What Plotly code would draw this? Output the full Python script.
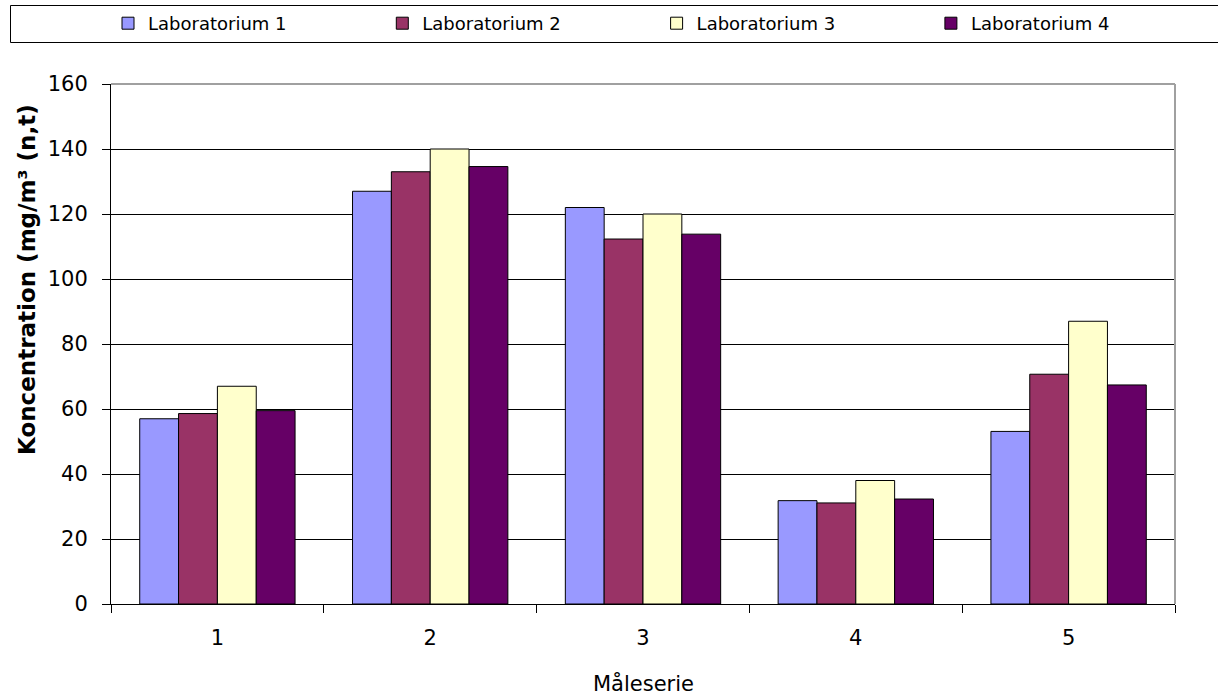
import plotly.graph_objects as go

# Measurement series (x categories) and results per laboratory
maleserie = ["1", "2", "3", "4", "5"]
lab1 = [57.0, 127.0, 122.0, 31.8, 53.1]
lab2 = [58.6, 133.0, 112.3, 31.1, 70.7]
lab3 = [67.0, 140.0, 120.0, 38.0, 87.0]
lab4 = [59.5, 134.6, 113.8, 32.3, 67.4]

series_names = ["Laboratorium 1", "Laboratorium 2", "Laboratorium 3", "Laboratorium 4"]
series_values = [lab1, lab2, lab3, lab4]
series_colors = ["#9999FF", "#993366", "#FFFFCC", "#660066"]

y_ticks = [0, 20, 40, 60, 80, 100, 120, 140, 160]

y_title = "Koncentration (mg/m³ (n,t)"
x_title = "Måleserie"

FONT = "DejaVu Sans"

W, H = 1218, 697
ML, MR, MT, MB = 111, 43, 84, 93
pw, ph = W - ML - MR, H - MT - MB


def px_x(p):
    return (p - ML) / pw


def px_y(p):
    return (H - MB - p) / ph


fig = go.Figure()
legend_ids = ["legend", "legend2", "legend3", "legend4"]
for name, vals, col, lg in zip(series_names, series_values, series_colors, legend_ids):
    fig.add_trace(go.Bar(
        x=maleserie, y=vals, name=name, legend=lg,
        marker=dict(color=col, line=dict(color="#000000", width=1)),
    ))

# one legend box per laboratory, spread evenly along the top strip
legend_layout = {}
for i, lg in enumerate(legend_ids):
    legend_layout[lg] = dict(
        orientation="h",
        xref="container", yref="container",
        x=(108 + 274.3 * i) / W, y=1 - 5 / H, xanchor="left", yanchor="top",
        font=dict(family=FONT, size=18),
        itemwidth=30,
        bgcolor="rgba(0,0,0,0)",
    )

fig.update_layout(
    width=W, height=H,
    margin=dict(l=ML, r=MR, t=MT, b=MB, pad=0),
    paper_bgcolor="white", plot_bgcolor="white",
    font=dict(family=FONT, size=20, color="#000000"),
    barmode="group", bargap=0.27, bargroupgap=0,
    showlegend=True,
    **legend_layout,
    xaxis=dict(
        type="category",
        tickson="boundaries",
        ticks="outside", ticklen=8, tickcolor="#000000", tickwidth=1,
        showline=True, linecolor="#000000", linewidth=1,
        showgrid=False, automargin=False,
        ticklabelstandoff=15,
        tickfont=dict(size=21),
    ),
    yaxis=dict(
        range=[0, 160],
        tickvals=y_ticks,
        ticks="outside", ticklen=8, tickcolor="#000000", tickwidth=1,
        showline=True, linecolor="#000000", linewidth=1,
        showgrid=True, gridcolor="#000000", gridwidth=1,
        zeroline=False, automargin=False,
        ticklabelstandoff=10,
        tickfont=dict(size=21),
    ),
    annotations=[
        dict(text=x_title, xref="paper", yref="paper",
             x=0.5, y=px_y(683), xanchor="center", yanchor="middle",
             showarrow=False, font=dict(size=21)),
        dict(text="<b>" + y_title + "</b>", xref="paper", yref="paper",
             x=px_x(27), y=px_y(280), xanchor="center", yanchor="middle",
             textangle=-90, showarrow=False, font=dict(size=23)),
    ],
    shapes=[
        # legend frame across the top
        dict(type="rect", xref="paper", yref="paper",
             x0=px_x(10.5), x1=px_x(1230), y0=px_y(42.5), y1=px_y(5.5),
             line=dict(color="#000000", width=1), fillcolor="rgba(0,0,0,0)", layer="below"),
        # grey top and right edges of the plot area
        dict(type="line", xref="paper", yref="paper", x0=0, x1=1, y0=1, y1=1,
             line=dict(color="#A0A0A0", width=2)),
        dict(type="line", xref="paper", yref="paper", x0=1, x1=1, y0=0, y1=1,
             line=dict(color="#A0A0A0", width=2)),
    ],
)

fig.write_html("out.html")
